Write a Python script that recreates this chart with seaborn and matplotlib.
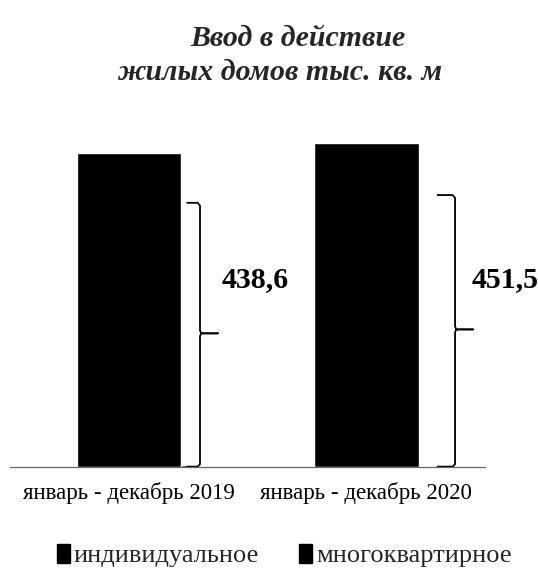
import matplotlib
matplotlib.use("Agg")
import matplotlib.pyplot as plt
import seaborn as sns
import numpy as np
import pandas as pd
from matplotlib.patches import Patch

categories = ["январь - декабрь 2019", "январь - декабрь 2020"]
individual = [438.6, 451.5]
multi = [2.5, 2.0]
value_labels = ["438,6", "451,5"]
series_names = ["индивидуальное", "многоквартирное"]
title_lines = ["Ввод в действие", "жилых домов тыс. кв. м"]

sns.set_theme(style="white")
plt.rcParams["font.family"] = ["Liberation Serif", "DejaVu Serif"]

fig = plt.figure(figsize=(5.38, 5.68), dpi=100)
ax = fig.add_axes([10 / 538, (568 - 467) / 568, 475 / 538, 337 / 568])

df = pd.DataFrame({"period": categories, "value": individual})
sns.barplot(data=df, x="period", y="value", color="black", width=0.44,
            saturation=1, ax=ax)
pos = np.arange(len(categories))
ax.bar(pos + 0.236, multi, width=0.03, color="black")

ax.set_xlim(-0.5, 1.5)
ax.set_ylim(0, 470)
ax.set_yticks([])
ax.set_xlabel("")
ax.set_ylabel("")
for s in ["top", "left", "right"]:
    ax.spines[s].set_visible(False)
ax.spines["bottom"].set_color("#666666")
ax.spines["bottom"].set_linewidth(0.9)
ax.set_xticks(pos)
ax.set_xticklabels(categories, fontsize=16.5, color="black")
ax.tick_params(axis="x", which="major", length=0, pad=11)
ax.set_xticks([-0.5, 0.5, 1.5], minor=True)
ax.tick_params(axis="x", which="minor", length=4, color="#444444", width=0.8)

# braces and labels
line_off = [0.300, 0.374]
hook_off = [0.246, 0.300]
tip_off = [0.376, 0.450]
text_off = [0.390, 0.443]
label_y = max(individual) * 0.578
for i, v in enumerate(individual):
    top = v * 0.84
    mid = v * 0.425
    bot = 0.0
    lx = i + line_off[i]
    hx = i + hook_off[i]
    tx = i + tip_off[i]
    d = 4
    xs = [hx, lx - 0.01, lx, lx, lx + 0.005, tx]
    ys = [top, top, top - d, mid + d, mid, mid]
    ax.plot(xs, ys, color="black", lw=1.3, solid_joinstyle="round", clip_on=False)
    xs2 = [tx, lx + 0.005, lx, lx, lx - 0.01, hx]
    ys2 = [mid, mid, mid - d, bot + d, bot + 0.5, bot + 0.5]
    ax.plot(xs2, ys2, color="black", lw=1.3, solid_joinstyle="round", clip_on=False)
    ax.text(i + text_off[i], label_y, value_labels[i], fontsize=21.5,
            fontweight="bold", ha="left", va="center", color="black", clip_on=False)

fig.text(0.553, 1 - 38 / 568, title_lines[0], fontsize=21.5, fontweight="bold",
         fontstyle="italic", ha="center", va="center")
fig.text(0.520, 1 - 72 / 568, title_lines[1], fontsize=21.5, fontweight="bold",
         fontstyle="italic", ha="center", va="center")

handles = [Patch(facecolor="black", edgecolor="black") for _ in series_names]
fig.legend(handles, series_names, loc="center", bbox_to_anchor=(0.528, 0.022),
           ncol=2, frameon=False, fontsize=19, handlelength=0.5, handleheight=0.75,
           handletextpad=0.15, columnspacing=1.5, borderpad=0.2)

fig.savefig("out.png", dpi=100)
